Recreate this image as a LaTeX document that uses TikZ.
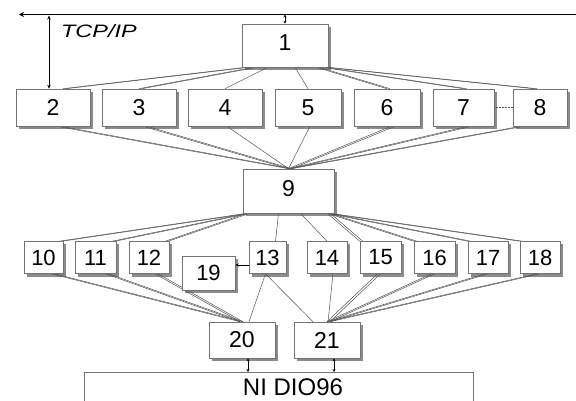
\documentclass[tikz,border=0pt]{standalone}
\usepackage{fontspec}
\setmainfont{Liberation Sans}
\usetikzlibrary{arrows.meta,calc}
\pgfdeclarelayer{shade}
\pgfdeclarelayer{wires}
\pgfsetlayers{shade,wires,main}
\begin{document}
\begin{tikzpicture}[x=1pt,y=-1pt,
  box/.style={draw=black!55, line width=0.6pt, fill=white, rectangle, inner sep=0pt,
    font=\fontsize{23}{23}\selectfont},
  sbox/.style={box, font=\fontsize{22}{22}\selectfont},
  raised/.style={text height=16.5pt, text depth=6pt},
  shadowfill/.style={fill=black!45},
  wire/.style={draw=black!68, line width=0.5pt},
  link/.style={draw=black, line width=0.8pt, {Stealth[length=4pt,width=3.5pt]}-{Stealth[length=4pt,width=3.5pt]}},
  shortlink/.style={draw=black, line width=0.8pt, {Stealth[length=3pt,width=3pt]}-{Stealth[length=3pt,width=3pt]}}]
\useasboundingbox (0,0) rectangle (576,401);
% network bus
\coordinate (busL) at (19,14.5);
\coordinate (busR) at (576,14.5);
\draw[line width=1.5pt, -{Stealth[length=5pt,width=5pt]}] (busR) -- (busL);
% NI board (runs past the bottom edge)
\node[draw=black!55, line width=0.6pt, minimum width=389pt, minimum height=45pt, anchor=north west,
  inner sep=0pt] (ni) at (84,372) {};
\node[font=\fontsize{24}{24}\selectfont, anchor=base, inner sep=0pt] (nitext) at (293,395) {NI DIO96};
% server
\node[box, raised, minimum width=86pt, minimum height=43pt] (n1) at (285,45.5) {1};
% first row
\foreach \n/\cx/\w in {2/53/74, 3/139/74, 4/225/74, 5/308/66, 6/387/66, 7/463.5/61, 8/540/54}
  \node[box, minimum width=\w pt, minimum height=37pt] (n\n) at (\cx,107.5) {\n};
\node[box, raised, minimum width=91pt, minimum height=44pt] (n9) at (288.5,191) {9};
% second row
\foreach \n/\cx/\w in {10/43.5/39, 11/95.5/41, 12/149/40, 13/267.5/37, 14/327/40, 15/380.5/41, 16/434.5/41, 17/488/40, 18/540/40}
  \node[sbox, minimum width=\w pt, minimum height=32pt] (n\n) at (\cx,257.5) {\n};
\node[sbox, minimum width=53pt, minimum height=34pt] (n19) at (208.5,273) {19};
\node[box, minimum width=66pt, minimum height=36pt] (n20) at (242,340) {20};
\node[box, minimum width=66pt, minimum height=36pt] (n21) at (327,340) {21};
% drop shadows of the boxes
\begin{pgfonlayer}{shade}
\foreach \n in {1,...,21}
  \fill[shadowfill] ($(n\n.south west)+(3,3)$) rectangle ($(n\n.north east)+(3,3)$);
\end{pgfonlayer}
% connectors
\begin{pgfonlayer}{wires}
\foreach \d in {0,3} {
  \draw[wire] ($(n1.south west)+(4+\d,0)$) -- ($(n2.north)+(10+\d,0)$);
  \draw[wire] ($(n1.south west)+(12+\d,0)$) -- ($(n3.north)+(\d,0)$);
  \draw[wire] ($(n1.south east)+(-12+\d,0)$) -- ($(n6.north)+(\d,0)$);
  \draw[wire] ($(n1.south east)+(-6+\d,0)$) -- ($(n7.north)+(\d,0)$);
  \draw[wire] ($(n1.south east)+(-3+\d,0)$) -- ($(n8.north)+(-6+\d,0)$);
}
\draw[wire] ($(n1.south west)+(26,0)$) -- (n4.north);
\draw[wire] ($(n1.south)+(10,0)$) -- (n5.north);
\foreach \n in {2,3,6,7} {
  \draw[wire] ($(n\n.south)+(4,0)$) -- (n9.north);
  \draw[wire] ($(n\n.south)+(8,0)$) -- ($(n9.north)+(3,0)$);
}
\foreach \n in {4,5}
  \draw[wire] ($(n\n.south)+(2,0)$) -- (n9.north);
\foreach \d in {0,3} {
  \draw[wire] ($(n8.south west)+(8+\d,0)$) -- ($(n9.north)+(\d,0)$);
  \foreach \n in {10,11,12}
    \draw[wire] ($(n9.south west)+(4+\d,0)$) -- ($(n\n.north east)+(-4+\d,0)$);
  \foreach \n in {15,...,18}
    \draw[wire] ($(n9.south east)+(-7+\d,0)$) -- ($(n\n.north west)+(\d,0)$);
  \draw[wire] ($(n10.south)+(8+\d,0)$) -- ($(n20.north)+(-2+\d,0)$);
  \draw[wire] ($(n11.south)+(10+\d,0)$) -- ($(n20.north)+(-2+\d,0)$);
  \draw[wire] ($(n12.south)+(6+\d,0)$) -- ($(n20.north)+(-2+\d,0)$);
  \draw[wire] ($(n15.south)+(-3+\d,0)$) -- ($(n21.north)+(\d,0)$);
  \draw[wire] ($(n16.south)+(-3+\d,0)$) -- ($(n21.north)+(\d,0)$);
  \draw[wire] ($(n17.south)+(-3+\d,0)$) -- ($(n21.north)+(\d,0)$);
  \draw[wire] ($(n18.south)+(-3+\d,0)$) -- ($(n21.north)+(\d,0)$);
}
\draw[wire] ($(n9.south)+(-10,0)$) -- ($(n13.north)+(8,0)$);
\draw[wire] ($(n9.south)+(12,0)$) -- (n14.north);
\draw[wire] ($(n13.south)+(-2,0)$) -- ($(n20.north)+(7,0)$);
\draw[wire] ($(n13.south)+(-2,0)$) -- ($(n21.north)+(-14,0)$);
\draw[wire] ($(n14.south)+(6,0)$) -- ($(n21.north)+(1,0)$);
\end{pgfonlayer}
\draw[wire, densely dotted] (n7.east) -- (n8.west);
% link from 13 to 19
\coordinate (a13) at ($(n13.west)+(0,7.5)$);
\draw[line width=0.8pt, -{Stealth[length=3.5pt,width=3pt]}] (a13) -- (a13 -| n19.east);
% TCP/IP link
\coordinate (tcpTop) at (49,15.5);
\draw[link] (tcpTop) -- (tcpTop |- n2.north);
\node[anchor=base west, inner sep=0pt] (tcp) at (61,38)
  {\scalebox{1.3}[1]{\fontsize{18}{18}\selectfont\itshape TCP/IP}};
% short links to the bus and to the NI board
\coordinate (p1) at (n1.north);
\coordinate (p20) at ($(n20.south)+(6,0)$);
\coordinate (p21) at ($(n21.south)+(7,0)$);
\draw[shortlink] (p1 |- busL) -- (p1);
\draw[shortlink] (p20) -- (p20 |- ni.north);
\draw[shortlink] (p21) -- (p21 |- ni.north);
\end{tikzpicture}
\end{document}
